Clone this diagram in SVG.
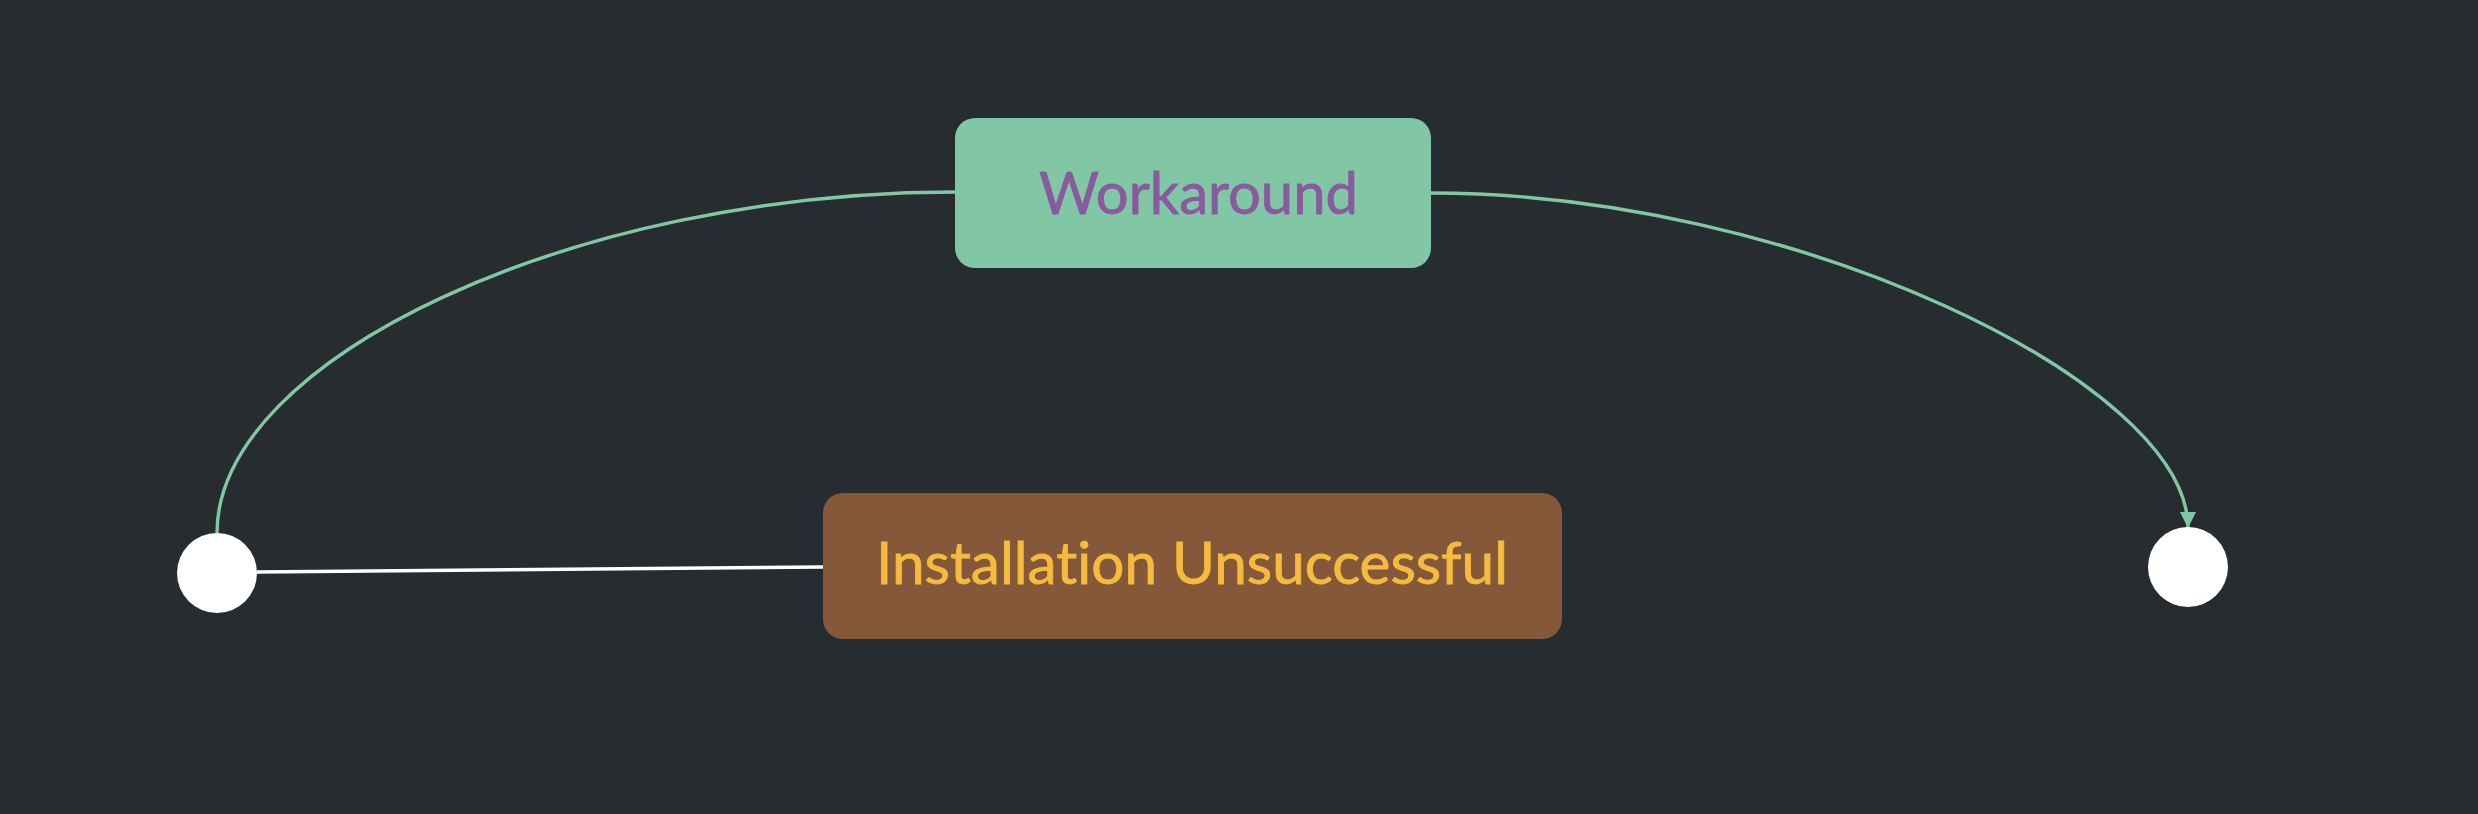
<svg xmlns="http://www.w3.org/2000/svg" width="2478" height="814" viewBox="0 0 2478 814">
<style>
.bg{fill:#272c30}
.lbl{font-family:Lato,"Open Sans","Noto Sans",sans-serif;font-size:58px;font-variant-ligatures:none;font-feature-settings:"liga" 0,"clig" 0;stroke-width:0.8px}
.green{stroke:#82c7a5;stroke-width:3.4;fill:none}
.white{stroke:#ffffff;stroke-width:3.4;fill:none}
.state{fill:#ffffff}
</style>
<defs>
<marker id="arrow" viewBox="0 0 16 16" refX="16" refY="8" markerWidth="16" markerHeight="16" markerUnits="userSpaceOnUse" orient="auto">
<path d="M0,0 L16,8 L0,16 Z" fill="#82c7a5"/>
</marker>
</defs>
<rect class="bg" x="0" y="0" width="2478" height="814"/>
<g id="connectors">
<path class="green" d="M955,192 C575,192 217,358 217,533"/>
<path class="green" d="M1431,193 C1791,193 2188,382 2188,528" marker-end="url(#arrow)"/>
<path class="white" d="M257,572 L823,567"/>
</g>
<g id="start">
<circle class="state" cx="217" cy="573" r="40"/>
</g>
<g id="end">
<circle class="state" cx="2188" cy="567" r="40"/>
</g>
<g id="workaround">
<rect x="955" y="118" width="476" height="150" rx="20" ry="20" fill="#82c7a5"/>
<text class="lbl" x="1039" y="214" fill="#8a5a9e" stroke="#8a5a9e" textLength="319" lengthAdjust="spacingAndGlyphs">Workaround</text>
</g>
<g id="installation-unsuccessful">
<rect x="823" y="493" width="739" height="146" rx="20" ry="20" fill="#845839"/>
<text class="lbl" x="876" y="584" fill="#f5bb3f" stroke="#f5bb3f" textLength="632" lengthAdjust="spacingAndGlyphs">Installation Unsuccessful</text>
</g>
</svg>
